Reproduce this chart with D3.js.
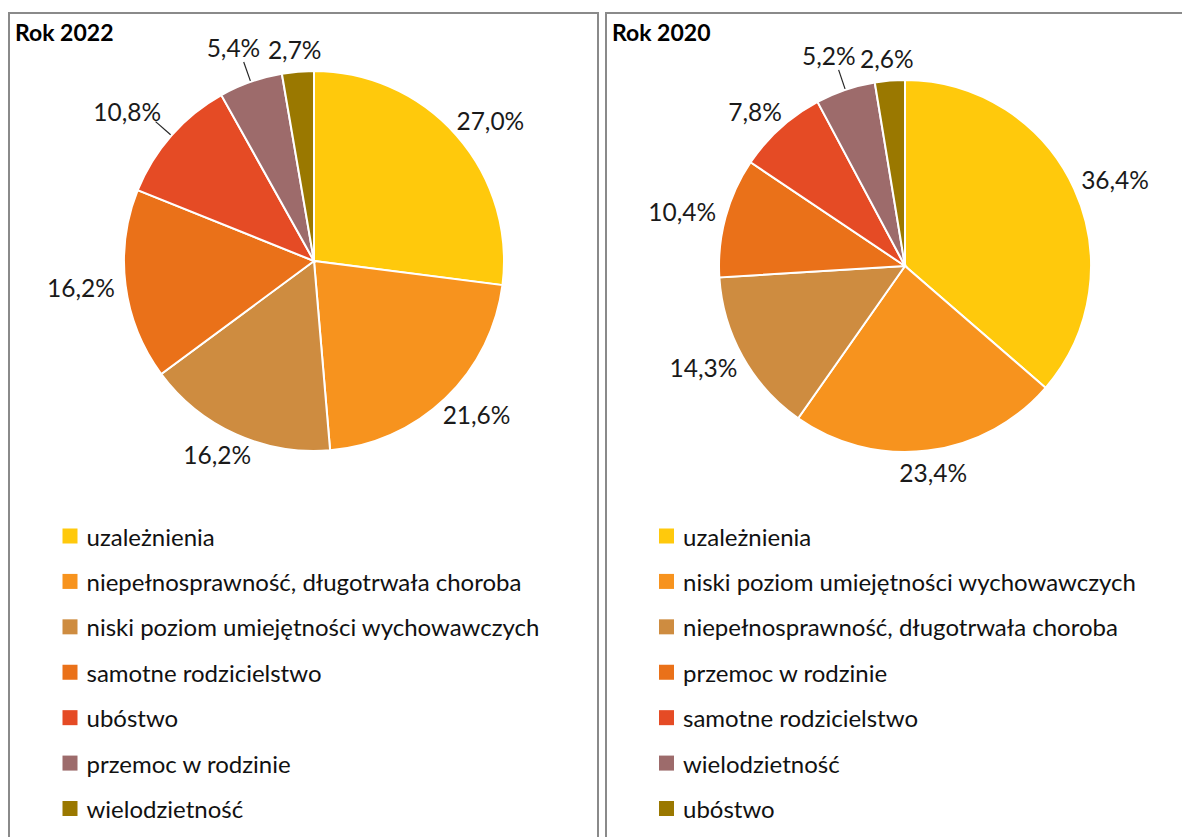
<!DOCTYPE html>
<html>
<head>
<meta charset="utf-8">
<script src="https://cdn.jsdelivr.net/npm/d3@7/dist/d3.min.js"></script>
<style>
  html, body { margin: 0; padding: 0; background: #fff; }
  svg { display: block; font-family: Lato, "Open Sans", sans-serif; }
</style>
</head>
<body>
<svg id="chart" width="1182" height="837"></svg>
<script>
// values
const categories2022 = [
  "uzależnienia",
  "niepełnosprawność, długotrwała choroba",
  "niski poziom umiejętności wychowawczych",
  "samotne rodzicielstwo",
  "ubóstwo",
  "przemoc w rodzinie",
  "wielodzietność"
];
const values2022 = [27.0, 21.6, 16.2, 16.2, 10.8, 5.4, 2.7];
const callouts2022 = ["ubóstwo", "przemoc w rodzinie"];

const categories2020 = [
  "uzależnienia",
  "niski poziom umiejętności wychowawczych",
  "niepełnosprawność, długotrwała choroba",
  "przemoc w rodzinie",
  "samotne rodzicielstwo",
  "wielodzietność",
  "ubóstwo"
];
const values2020 = [36.4, 23.4, 14.3, 10.4, 7.8, 5.2, 2.6];
const callouts2020 = ["wielodzietność"];

// slice colours follow slice order, not category
const sliceColors = ["#ffc90c", "#f7931e", "#ce8c40", "#ea7119", "#e54b25", "#9d6b6b", "#9a7800"];

const svg = d3.select("#chart");
const fmt = (v) => d3.format(".1f")(v).replace(".", ",") + "%";

function drawPanel({ title, categories, values, callouts, x0, x1, cx, cy, r, legendX }) {
  const g = svg.append("g");

  // frame (panels run off the bottom, right one also off the right edge)
  g.append("path")
    .attr("d", `M ${x0},900 L ${x0},13 L ${x1},13` + (x1 < 1182 ? ` L ${x1},900` : ""))
    .attr("fill", "none")
    .attr("stroke", "#8a8a8a")
    .attr("stroke-width", 2);

  g.append("text")
    .attr("x", x0 + 6)
    .attr("y", 41)
    .attr("font-weight", 700)
    .attr("font-size", 23)
    .attr("fill", "#000")
    .text(title);

  const rows = categories.map((c, i) => ({ label: c, value: values[i], i }));
  const pie = d3.pie().sort(null).value((d) => d.value);
  const arc = d3.arc().innerRadius(0).outerRadius(r);
  const arcs = pie(rows);

  const pieG = g.append("g").attr("transform", `translate(${cx},${cy})`);
  pieG.selectAll("path")
    .data(arcs)
    .join("path")
    .attr("d", arc)
    .attr("fill", (d) => sliceColors[d.data.i])
    .attr("stroke", "#fff")
    .attr("stroke-width", 2);

  // data labels, outside end
  const fontSize = 24.5;
  arcs.forEach((d) => {
    const a = (d.startAngle + d.endAngle) / 2;
    const s = Math.sin(a);
    const c = Math.cos(a);
    const hasCallout = callouts.includes(d.data.label);
    const rr = r + 11 + (hasCallout ? 14 : 0);

    const label = pieG.append("text")
      .attr("text-anchor", "middle")
      .attr("dominant-baseline", "central")
      .attr("font-size", fontSize)
      .attr("fill", "#1a1a1a")
      .text(fmt(d.data.value));

    const w = label.node().getComputedTextLength();
    const h = fontSize * 0.9;
    label
      .attr("x", rr * s + (w / 2) * s)
      .attr("y", -rr * c - (h / 2) * c);

    if (hasCallout) {
      pieG.append("line")
        .attr("x1", (r + 1) * s)
        .attr("y1", -(r + 1) * c)
        .attr("x2", (rr - 4) * s)
        .attr("y2", -(rr - 4) * c)
        .attr("stroke", "#262626")
        .attr("stroke-width", 1.2);
    }
  });

  // legend
  const y = d3.scalePoint().domain(categories).range([536, 808.5]);
  const item = g.append("g").selectAll("g")
    .data(rows)
    .join("g")
    .attr("transform", (d) => `translate(${legendX},${y(d.label)})`);
  item.append("rect")
    .attr("x", 0)
    .attr("y", -7.5)
    .attr("width", 15)
    .attr("height", 15)
    .attr("fill", (d) => sliceColors[d.i]);
  item.append("text")
    .attr("x", 24)
    .attr("y", 0)
    .attr("dominant-baseline", "central")
    .attr("font-size", 24)
    .attr("fill", "#111")
    .text((d) => d.label);
}

drawPanel({
  title: "Rok 2022",
  categories: categories2022,
  values: values2022,
  callouts: callouts2022,
  x0: 9, x1: 598,
  cx: 314, cy: 261, r: 190,
  legendX: 62.5
});

drawPanel({
  title: "Rok 2020",
  categories: categories2020,
  values: values2020,
  callouts: callouts2020,
  x0: 606, x1: 1300,
  cx: 905, cy: 266, r: 186,
  legendX: 659
});
</script>
</body>
</html>
